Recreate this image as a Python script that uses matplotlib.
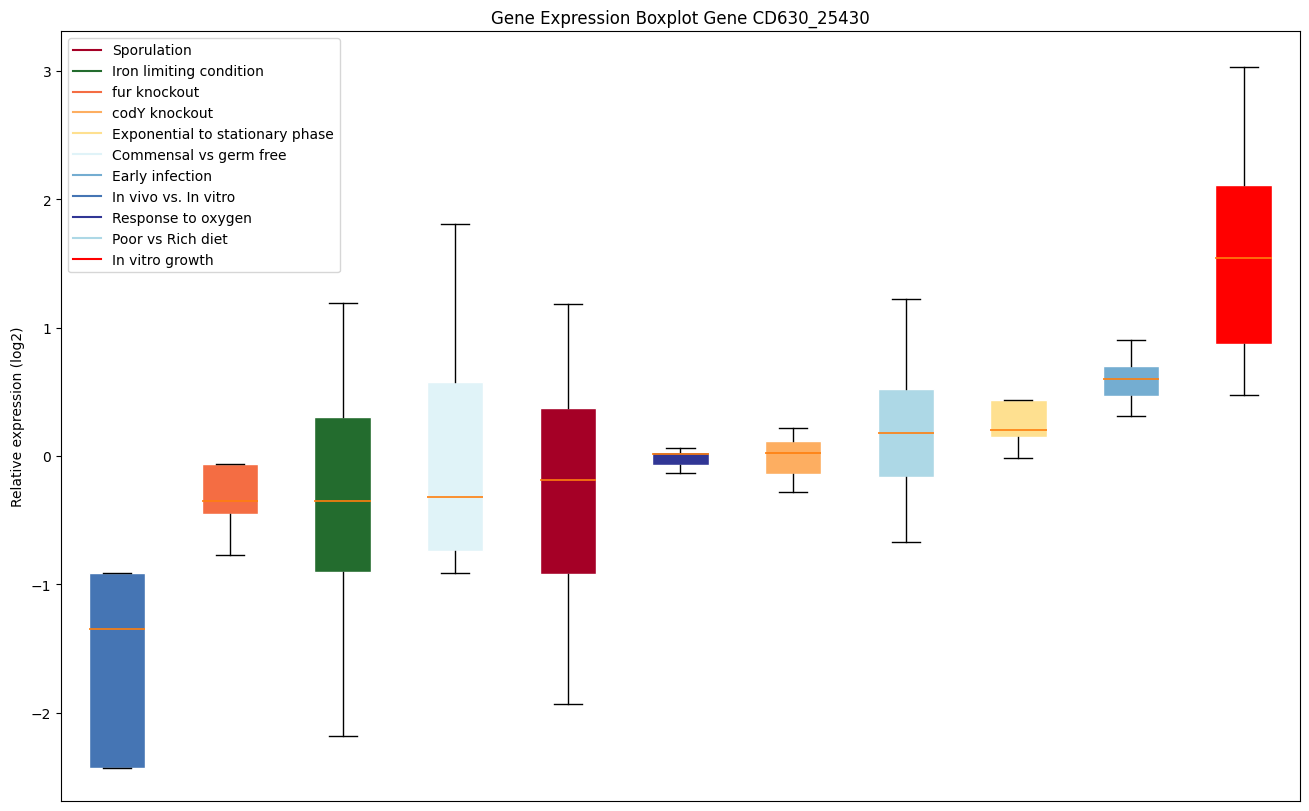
import matplotlib
matplotlib.use('Agg')
import matplotlib.pyplot as plt
from matplotlib.lines import Line2D

# conditions in the order the boxes are drawn (left to right)
conditions = ['In vivo vs. In vitro', 'fur knockout', 'Iron limiting condition',
              'Commensal vs germ free', 'Sporulation', 'Response to oxygen',
              'codY knockout', 'Poor vs Rich diet', 'Exponential to stationary phase',
              'Early infection', 'In vitro growth']
box_colors = ['#4575b4', '#f46d43', '#236c2e', '#e0f3f8', '#a50026', '#313695',
              '#fdae61', '#add8e6', '#fee090', '#74add1', '#ff0000']

# box statistics (log2)
whislo = [-2.43, -0.77, -2.18, -0.91, -1.93, -0.135, -0.283, -0.672, -0.018, 0.31, 0.475]
q1 = [-2.43, -0.45, -0.90, -0.74, -0.92, -0.07, -0.14, -0.164, 0.148, 0.467, 0.87]
med = [-1.35, -0.35, -0.35, -0.32, -0.19, 0.015, 0.02, 0.177, 0.205, 0.597, 1.54]
q3 = [-0.91, -0.06, 0.30, 0.58, 0.37, 0.035, 0.12, 0.52, 0.44, 0.70, 2.11]
whishi = [-0.91, -0.06, 1.19, 1.81, 1.18, 0.065, 0.22, 1.22, 0.44, 0.905, 3.03]

# legend order
legend_names = ['Sporulation', 'Iron limiting condition', 'fur knockout', 'codY knockout',
                'Exponential to stationary phase', 'Commensal vs germ free', 'Early infection',
                'In vivo vs. In vitro', 'Response to oxygen', 'Poor vs Rich diet', 'In vitro growth']

stats = []
for i in range(len(conditions)):
    stats.append({'label': conditions[i], 'whislo': whislo[i], 'q1': q1[i], 'med': med[i],
                  'q3': q3[i], 'whishi': whishi[i], 'fliers': []})

fig = plt.figure(figsize=(13.09, 8.12), dpi=100)
ax = fig.add_axes([0.0466, 0.0123, 0.9465, 0.9483])

bp = ax.bxp(stats, patch_artist=True, showfliers=False,
            medianprops=dict(color='#ff7f0e', linewidth=1.2))
for patch, c in zip(bp['boxes'], box_colors):
    patch.set_facecolor(c)
    patch.set_edgecolor('white')

ax.set_xticks([])
ax.set_xlim(0.5, 11.5)
ax.set_ylim(-2.687, 3.31)
ax.set_yticks([-2, -1, 0, 1, 2, 3])
ax.set_ylabel('Relative expression (log2)')
ax.set_title('Gene Expression Boxplot Gene CD630_25430')

color_of = dict(zip(conditions, box_colors))
handles = [Line2D([0], [0], color=color_of[n], lw=1.5) for n in legend_names]
ax.legend(handles, legend_names, loc='upper left')

fig.savefig('out.png', dpi=100)
